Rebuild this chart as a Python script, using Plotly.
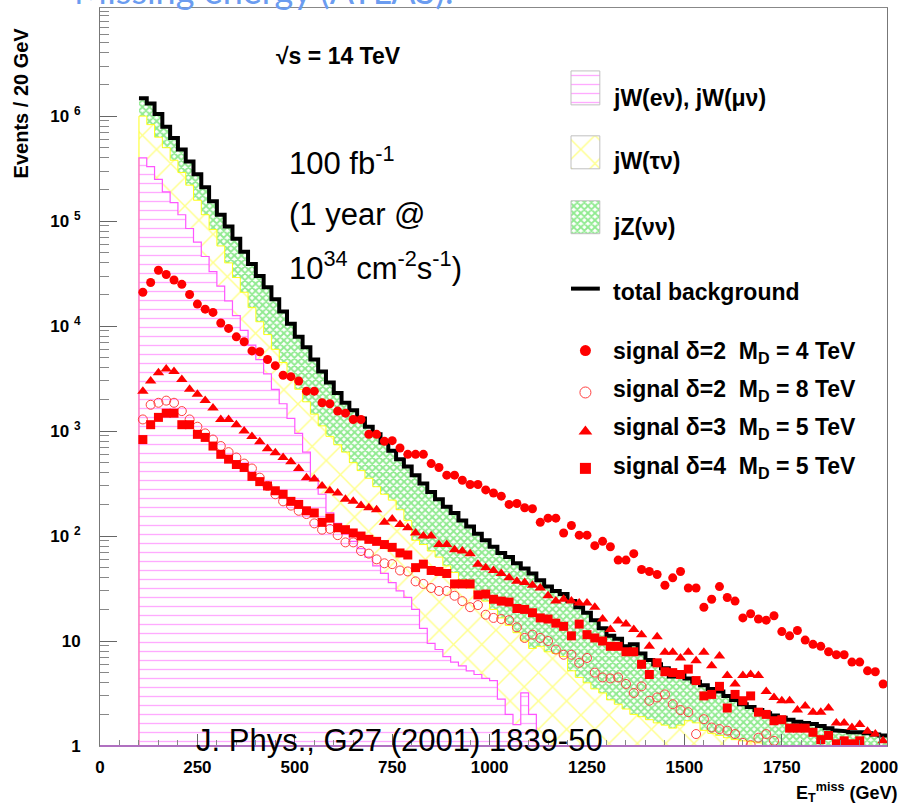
import plotly.graph_objects as go

# ---------------- data (events / 20 GeV) ----------------
bin_width = 20
bin_low_edges = list(range(100, 2020, 20))          # 96 bins, 100 .. 2020 GeV

total_bkg = [1.48e6, 1.32e6, 1.05e6, 7.9e5, 6.2e5, 4.8e5, 3.7e5, 2.8e5, 2.1e5, 1.55e5,
             1.15e5, 8.9e4, 6.8e4, 5.1e4, 3.9e4, 3.0e4, 2.35e4, 1.8e4, 1.38e4, 1.05e4,
             7.9e3, 6.3e3, 4.8e3, 3.7e3, 2.9e3, 2.3e3, 1.86e3, 1.58e3, 1.32e3, 1.10e3,
             930, 780, 650, 540, 460, 380, 316, 263, 224, 190,
             166, 141, 123, 105, 91, 79, 69, 63, 55, 49,
             44, 38, 33, 30, 28, 24, 21, 18.6, 15.8, 13.2,
             11.2, 10.5, 8.9, 9.3, 7.6, 6.6, 6.0, 5.5, 4.6, 5.0,
             4.4, 4.1, 3.8, 3.5, 3.3, 3.0, 2.75, 2.5, 2.35, 2.2,
             2.05, 1.95, 1.86, 1.78, 1.70, 1.66, 1.62, 1.55, 1.48, 1.41,
             1.38, 1.35, 1.35, 1.32, 1.29, 1.26]

# jW(tau nu) + jW(e nu, mu nu) (cumulative)
w_all = [1.0e6, 8.3e5, 6.3e5, 5.0e5, 3.8e5, 2.9e5, 2.2e5, 1.58e5, 1.15e5, 8.3e4,
         5.8e4, 4.0e4, 2.9e4, 2.1e4, 1.5e4, 1.1e4, 8.3e3, 6.0e3, 4.5e3, 3.3e3,
         2.5e3, 1.9e3, 1.45e3, 1.12e3, 890, 740, 630, 500, 420, 355,
         295, 250, 220, 178, 141, 91, 83, 72, 63, 52,
         45, 38, 32, 28, 24, 20, 16.6, 14.1, 12.0, 10.0,
         8.5, 8.9, 7.9, 7.6, 7.1, 5.2, 4.5, 4.0, 3.5, 3.2,
         2.75, 2.5, 2.25, 2.0, 1.9, 1.78, 1.66, 1.58, 1.48, 1.58,
         1.74, 1.66, 1.41, 1.32, 1.26, 1.2, 1.15, 1.12, 1.1, 1.07,
         None, None, None, None, None, None, None, None, None, None,
         None, None, None, None, None, None]

# jW(e nu), jW(mu nu)
w_emu = [4.0e5, 3.3e5, 2.5e5, 1.9e5, 1.5e5, 1.15e5, 8.5e4, 6.3e4, 4.6e4, 3.3e4,
         2.4e4, 1.74e4, 1.26e4, 9.1e3, 6.6e3, 4.8e3, 3.5e3, 2.5e3, 1.82e3, 1.32e3,
         950, 630, 355, 250, 166, 132, 105, 89, 76, 63,
         52, 44, 36, 30, 26, 20, 13.2, 9.5, 8.3, 7.1,
         6.3, 5.8, 5.2, 4.8, 4.4, 4.2, 2.8, 2.0, 1.6, 3.2,
         2.0, None, None, None, None, None, None, None, None, None,
         None, None, None, None, None, None, None, None, None, None,
         None, None, None, None, None, None, None, None, None, None,
         None, None, None, None, None, None, None, None, None, None,
         None, None, None, None, None, None]

sig_d2_md4 = [2.1e4, 2.6e4, 3.4e4, 3.1e4, 2.75e4, 2.5e4, 2.0e4, 1.62e4, 1.45e4, 1.35e4,
              1.07e4, 9.5e3, 7.9e3, 7.1e3, 5.8e3, 5.7e3, 4.8e3, 4.2e3, 3.4e3, 3.3e3,
              3.0e3, 2.4e3, 2.4e3, 1.86e3, 1.82e3, 1.55e3, 1.48e3, 1.29e3, 1.29e3, 930,
              930, 800, 810, 690, 600, 600, 600, 490, 450, 380,
              380, 340, 310, 310, 275, 257, 240, 200, 204, 186,
              182, 135, 148, 148, 107, 126, 102, 102, 81, 89,
              79, 59, 59, 68, 48, 46, 43, 34, 40, 46,
              32, 32, 21, 25, 33, 26, 24, 16.6, 18.2, 16.2,
              15.8, 17.4, 12.3, 11.2, 12.6, 10.2, 9.3, 8.9, 7.9, 7.4,
              7.4, 6.3, 6.3, 5.2, 5.1, 3.9]

sig_d2_md8 = [1290, 1780, 1860, 1950, 1860, 1550, 1290, 1100, 950, 830,
              720, 630, 560, 490, 440, 360, 300, 250, 214, 195,
              174, 162, 132, 115, 117, 102, 87, 87, 72, 68,
              60, 55, 54, 47, 46, 37, 35, 32, 30, 30,
              27, 24, 21, 22, 17.8, 16.6, 16.2, 15.8, 13.5, 10.7,
              11.5, 10.7, 10.0, 8.3, 7.4, 7.4, 6.2, 6.9, 5.0, 4.5,
              4.4, 4.5, 3.9, 3.2, 3.7, 2.7, 2.9, 3.1, 2.5, 2.2,
              2.1, 1.3, 1.8, 1.5, 1.45, 1.4, 1.3, 1.07, 1.02, 1.2,
              1.3, 1.12, None, None, None, None, None, None, None, None,
              None, None, None, None, None, None]

sig_d3_md5 = [2400, 3000, 3600, 3900, 3700, 3100, 2500, 2240, 1950, 1660,
              1290, 1290, 1150, 1000, 890, 790, 680, 620, 560, 510,
              440, 360, 350, 300, 270, 257, 224, 214, 195, 186,
              178, 135, 145, 129, 120, 107, 100, 100, 83, 83,
              74, 72, 68, 54, 50, 47, 44, 40, 37, 36,
              34, 32, 27, 24, 25, 24, 23, 23, 21, 16.2,
              12.9, 15.5, 14.5, 12.9, 11.5, 8.9, 11.0, 7.8, 7.8, 6.9,
              7.8, 6.5, 7.8, 5.8, 7.2, 4.7, 3.9, 4.7, 4.8, 4.7,
              3.3, 2.9, 2.7, 2.7, 2.2, 2.4, 2.1, 2.1, 2.3, 1.66,
              1.66, 1.5, 1.6, 1.38, 1.3, 1.12]

sig_d4_md5 = [830, 1150, 1350, 1480, 1480, 1150, 1150, 930, 870, 720,
              600, 540, 480, 450, 370, 330, 300, 270, 250, 214,
              200, 174, 166, 135, 148, 120, 115, 107, 100, 93,
              89, 83, 78, 69, 66, 50, 54, 47, 46, 44,
              35, 35, 35, 27.5, 28, 25, 24, 23.5, 20.4, 20,
              18.6, 16.6, 16.2, 14.8, 13.8, 11.2, 14.5, 11.5, 10.7, 10.0,
              8.9, 8.9, 7.9, 7.9, 6.0, 4.8, 6.2, 5.1, 5.0, 4.8,
              5.4, 4.2, 3.0, 3.1, 3.7, 2.3, 3.1, 2.7, 3.0, 2.1,
              2.0, 1.74, 1.78, 1.48, 1.48, 1.48, 1.35, 1.15, 1.26, 1.05,
              1.12, 1.05, 1.12, None, None, None]

x_tick_values = [0, 250, 500, 750, 1000, 1250, 1500, 1750, 2000]
y_tick_values = [1, 10, 100, 1000, 1e4, 1e5, 1e6]
y_tick_text = ["1", "10", "10 <sup>2</sup>", "10 <sup>3</sup>", "10 <sup>4</sup>",
               "10 <sup>5</sup>", "10 <sup>6</sup>"]

# ---------------- derived ----------------
bin_edges = bin_low_edges + [bin_low_edges[-1] + bin_width]
bin_centers = [e + bin_width / 2 for e in bin_low_edges]


def step_outline(values, drop=True, floor=1e-3):
    xs, ys = [], []
    prev = None
    for i, v in enumerate(values):
        x0, x1 = bin_edges[i], bin_edges[i + 1]
        if v is None:
            if prev is not None:
                if drop:
                    xs.append(x0); ys.append(floor)
                xs.append(None); ys.append(None)
            prev = None
            continue
        if prev is None and drop:
            xs.append(x0); ys.append(floor)
        xs += [x0, x1]
        ys += [v, v]
        prev = v
    if prev is not None and drop:
        xs.append(bin_edges[-1]); ys.append(floor)
    return xs, ys


PINK = "#ff55ff"
YELLOW = "#ffff1a"
GREEN = "#22d622"
RED = "#ff0000"

fig = go.Figure()

pat_green = dict(shape="x", fgcolor=GREEN, bgcolor="white", size=5, solidity=0.62)
pat_yellow = dict(shape="x", fgcolor=YELLOW, bgcolor="white", size=20, solidity=0.14)
pat_pink = dict(shape="-", fgcolor=PINK, bgcolor="white", size=9, solidity=0.15)

for vals, pat in [(total_bkg, pat_green), (w_all, pat_yellow), (w_emu, pat_pink)]:
    fig.add_trace(go.Bar(x=bin_centers, y=vals, width=bin_width,
                         marker=dict(color="white", line=dict(width=0), pattern=pat),
                         showlegend=False, hoverinfo="skip"))

xs, ys = step_outline(w_all)
fig.add_trace(go.Scatter(x=xs, y=ys, mode="lines", line=dict(color=YELLOW, width=1),
                         showlegend=False, hoverinfo="skip"))
xs, ys = step_outline(w_emu)
fig.add_trace(go.Scatter(x=xs, y=ys, mode="lines", line=dict(color=PINK, width=1.2),
                         showlegend=False, hoverinfo="skip"))
xs, ys = step_outline(total_bkg, drop=False)
fig.add_trace(go.Scatter(x=xs, y=ys, mode="lines", line=dict(color="black", width=4),
                         showlegend=False, hoverinfo="skip"))

sig_styles = [
    (sig_d2_md4, dict(symbol="circle", size=9, color=RED)),
    (sig_d2_md8, dict(symbol="circle-open", size=9, color="#ff4040", line=dict(width=1, color="#ff4040"))),
    (sig_d3_md5, dict(symbol="triangle-up", size=10, color=RED)),
    (sig_d4_md5, dict(symbol="square", size=9, color=RED)),
]
for vals, mk in sig_styles:
    fig.add_trace(go.Scatter(x=bin_centers, y=vals, mode="markers", marker=mk,
                             showlegend=False, hoverinfo="skip"))

# ---------------- legend (drawn on an overlay axis in plot-fraction units) ----------------
L, T, W, H = 100, 7, 792, 739  # plot area in px


def fx(px):
    return (px - L) / W


def fy(py):
    return (T + H - py) / H


sw_x0, sw_x1 = fx(574), fx(603)
swatches = [(pat_pink, 70, 104), (pat_yellow, 135, 168), (pat_green, 200, 233)]
for pat, ytop, ybot in swatches:
    fig.add_trace(go.Bar(x=[(sw_x0 + sw_x1) / 2], y=[fy(ytop) - fy(ybot)], base=[fy(ybot)],
                         width=[sw_x1 - sw_x0], xaxis="x2", yaxis="y2",
                         marker=dict(color="white", line=dict(width=0), pattern=pat),
                         showlegend=False, hoverinfo="skip"))
    fig.add_shape(type="rect", xref="paper", yref="paper", x0=sw_x0, x1=sw_x1,
                  y0=fy(ybot), y1=fy(ytop), line=dict(color="#c0c0c0", width=1))

fig.add_shape(type="line", xref="paper", yref="paper", x0=sw_x0, x1=sw_x1,
              y0=fy(288), y1=fy(288), line=dict(color="black", width=4))

for (vals, mk), py in zip(sig_styles, [350, 392, 431, 468]):
    mk2 = dict(mk)
    mk2["size"] = mk["size"] + 2
    fig.add_trace(go.Scatter(x=[(sw_x0 + sw_x1) / 2], y=[fy(py)], mode="markers",
                             marker=mk2, xaxis="x2", yaxis="y2",
                             showlegend=False, hoverinfo="skip"))

legend_texts = [
    ("jW(eν), jW(μν)", 97), ("jW(τν)", 160), ("jZ(νν)", 226), ("total background", 291),
    ("signal δ=2  M<sub>D</sub> = 4 TeV", 352), ("signal δ=2  M<sub>D</sub> = 8 TeV", 390),
    ("signal δ=3  M<sub>D</sub> = 5 TeV", 428), ("signal δ=4  M<sub>D</sub> = 5 TeV", 467),
]
BOLD = dict(family="Liberation Sans, Arial, sans-serif", size=23, color="black", weight="bold")
for txt, py in legend_texts:
    fig.add_annotation(x=fx(614), y=fy(py), xref="paper", yref="paper", text=txt,
                       showarrow=False, xanchor="left", yanchor="middle", font=BOLD)

COND = dict(family="Liberation Sans, Arial, sans-serif", size=31, color="black")
fig.add_annotation(x=fx(340), y=fy(55), xref="paper", yref="paper", text="√s = 14 TeV",
                   showarrow=False, xanchor="center", yanchor="middle", font=BOLD)
fig.add_annotation(x=fx(288), y=fy(160), xref="paper", yref="paper", text="100 fb<sup>-1</sup>",
                   showarrow=False, xanchor="left", yanchor="middle", font=COND)
fig.add_annotation(x=fx(288), y=fy(214), xref="paper", yref="paper", text="(1 year @",
                   showarrow=False, xanchor="left", yanchor="middle", font=COND)
fig.add_annotation(x=fx(288), y=fy(265), xref="paper", yref="paper",
                   text="10<sup>34</sup> cm<sup>-2</sup>s<sup>-1</sup>)",
                   showarrow=False, xanchor="left", yanchor="middle", font=COND)
fig.add_annotation(x=fx(195), y=fy(740), xref="paper", yref="paper",
                   text="J. Phys., G27 (2001) 1839-50",
                   showarrow=False, xanchor="left", yanchor="middle", font=COND)

# cut-off slide title
fig.add_annotation(x=fx(72), y=fy(13), xref="paper", yref="paper",
                   text="Missing energy (ATLAS):", showarrow=False,
                   xanchor="left", yanchor="bottom",
                   font=dict(family="Lato, Open Sans, sans-serif", size=36, color="#6b9cf0"))

# axis titles
fig.add_annotation(x=fx(20), y=fy(102), xref="paper", yref="paper", text="Events / 20 GeV",
                   textangle=-90, showarrow=False, xanchor="center", yanchor="middle",
                   font=dict(family="Liberation Sans, Arial", size=20, color="black", weight="bold"))
fig.add_annotation(x=fx(904), y=fy(793), xref="paper", yref="paper",
                   text="E<sub>T</sub><sup>miss</sup> (GeV)",
                   showarrow=False, xanchor="right", yanchor="middle",
                   font=dict(family="Liberation Sans, Arial", size=18, color="black", weight="bold"))

# purple baseline (pink histogram drawn at zero)
fig.add_shape(type="line", xref="paper", yref="paper", x0=0, x1=1, y0=0, y1=0,
              line=dict(color="#b070c0", width=2))

fig.update_layout(
    width=905, height=809,
    margin=dict(l=L, r=905 - L - W, t=T, b=809 - T - H),
    paper_bgcolor="white", plot_bgcolor="white",
    barmode="overlay", bargap=0,
    xaxis=dict(range=[0, 2020], tickvals=x_tick_values, ticks="inside", ticklen=12,
               tickcolor="#666", tickwidth=1, showline=True, linecolor="#888", linewidth=1,
               mirror=True, showgrid=False, zeroline=False, ticklabelstandoff=6,
               minor=dict(dtick=50, ticks="inside", ticklen=6, tickcolor="#888", showgrid=False),
               tickfont=dict(family="Liberation Sans, Arial", size=17, color="black", weight="bold")),
    yaxis=dict(type="log", range=[0, 7.03], tickvals=y_tick_values, ticktext=y_tick_text,
               ticks="inside", ticklen=17, tickcolor="#666", showline=True, linecolor="#777",
               linewidth=1, mirror=True, showgrid=False, zeroline=False, ticklabelstandoff=15,
               minor=dict(dtick="D1", ticks="inside", ticklen=9, tickcolor="#888", showgrid=False),
               tickfont=dict(family="Liberation Sans, Arial", size=17, color="black", weight="bold")),
    xaxis2=dict(range=[0, 1], overlaying="x", visible=False, fixedrange=True),
    yaxis2=dict(range=[0, 1], overlaying="y", visible=False, fixedrange=True),
)

fig.write_html("out.html", config={"displayModeBar": False},
               post_script="document.body.style.margin='0';document.body.style.padding='0';")
